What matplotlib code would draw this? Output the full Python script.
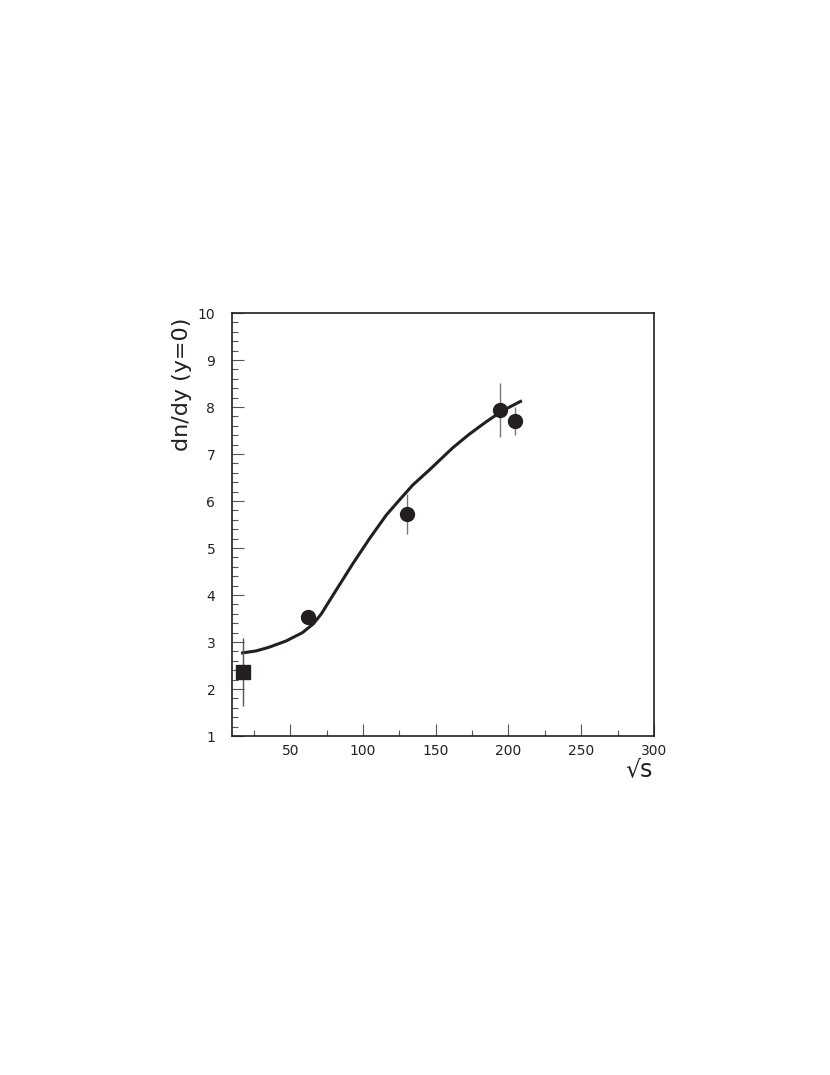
import numpy as np
import matplotlib.pyplot as plt
from matplotlib.ticker import MultipleLocator

# data points
sps_x = [17.3]
sps_y = [2.36]
sps_err = [0.72]

rhic_x = [62.0, 130.0, 194.0, 204.5]
rhic_y = [3.53, 5.72, 7.94, 7.70]
rhic_err = [0.08, 0.43, 0.58, 0.30]

# model curve
curve_x = [17.3, 26.4, 35.5, 47.0, 58.4, 66.0, 71.4, 81.7, 93.1, 104.5,
           116.0, 125.0, 134.2, 145.6, 161.6, 173.0, 184.4, 195.8, 208.3]
curve_y = [2.77, 2.81, 2.89, 3.02, 3.20, 3.39, 3.60, 4.11, 4.67, 5.20,
           5.70, 6.02, 6.34, 6.66, 7.13, 7.42, 7.68, 7.92, 8.12]

ink = '#231f20'

fig = plt.figure(figsize=(8.3, 10.75), dpi=100)
ax = fig.add_axes([0.2795, 0.3153, 0.5084, 0.3935])

ax.plot(curve_x, curve_y, '-', color=ink, lw=2.2, zorder=2,
        solid_joinstyle='round')
ax.errorbar(rhic_x, rhic_y, yerr=rhic_err, fmt='o', color=ink, ms=10,
            ecolor='#777777', elinewidth=1, capsize=0, zorder=3)
ax.errorbar(sps_x, sps_y, yerr=sps_err, fmt='s', color=ink, ms=10,
            ecolor='#555555', elinewidth=1, capsize=0, zorder=3)

ax.set_xlim(10, 300)
ax.set_ylim(1, 10)
ax.xaxis.set_major_locator(MultipleLocator(50))
ax.xaxis.set_minor_locator(MultipleLocator(25))
ax.yaxis.set_major_locator(MultipleLocator(1))
ax.yaxis.set_minor_locator(MultipleLocator(0.2))
ax.tick_params(which='both', direction='in', top=False, right=False,
               colors='#555555', labelcolor='#222222', labelsize=10)
ax.tick_params(which='major', length=8.5, width=0.8)
ax.tick_params(which='minor', length=4.3, width=0.8)
ax.tick_params(axis='y', pad=12)
ax.tick_params(axis='x', pad=6)
for s in ax.spines.values():
    s.set_linewidth(1.2)
    s.set_color(ink)

ax.set_xticks([50, 100, 150, 200, 250, 300])

ax.text(0.998, -0.079, '√s', transform=ax.transAxes,
        ha='right', va='center', fontsize=17, color=ink)
ax.text(-0.118, 0.99, 'dn/dy (y=0)', transform=ax.transAxes, rotation=90,
        ha='center', va='top', fontsize=16, color=ink)

fig.savefig('out.png', dpi=100)
